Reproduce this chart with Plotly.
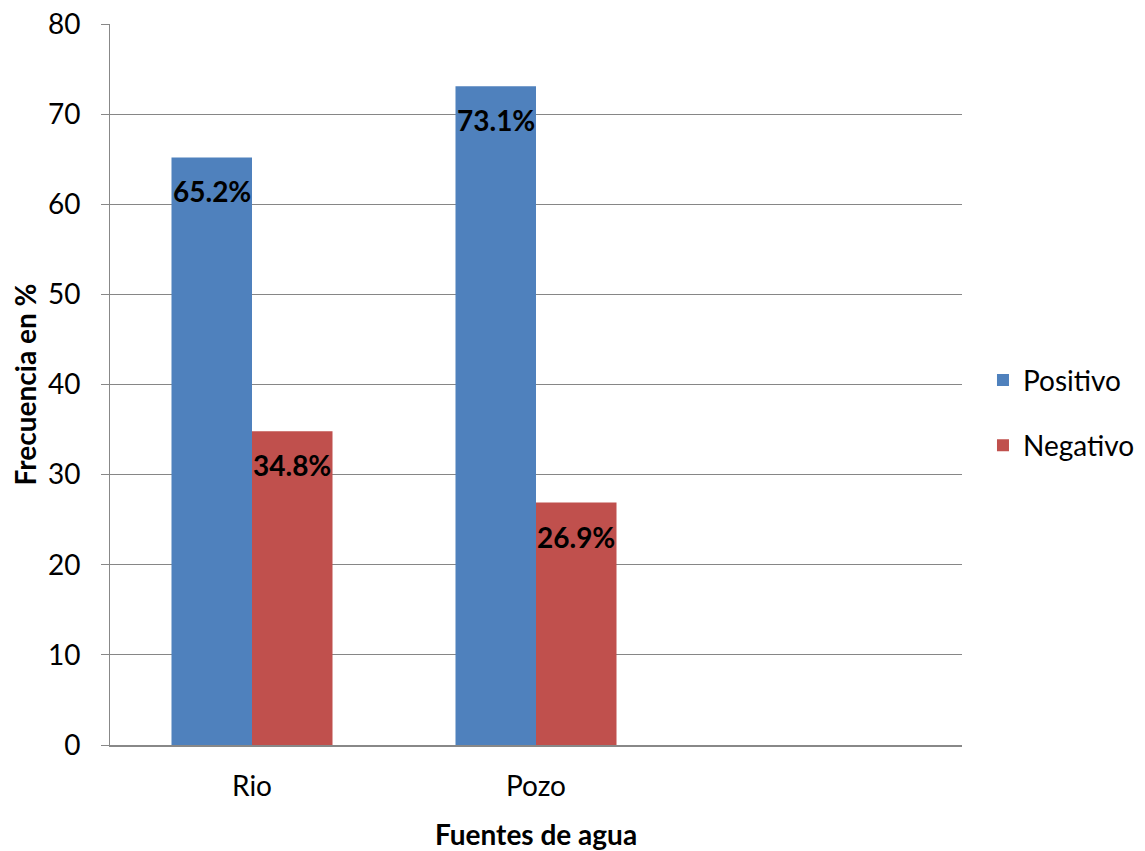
import plotly.graph_objects as go

categories = ["Rio", "Pozo", "Otro"]
positivo = [65.2, 73.1, None]
negativo = [34.8, 26.9, None]
pos_labels = ["65.2%", "73.1%"]
neg_labels = ["34.8%", "26.9%"]
y_ticks = [0, 10, 20, 30, 40, 50, 60, 70, 80]

FONT = "Lato"
BLUE = "#4F81BD"
RED = "#C0504D"
GRID = "#868686"

fig = go.Figure()
fig.add_trace(go.Bar(name="Positivo", x=categories, y=positivo,
                     marker=dict(color=BLUE, line=dict(width=0)), legendgroup="a"))
fig.add_trace(go.Bar(name="Negativo", x=categories, y=negativo,
                     marker=dict(color=RED, line=dict(width=0)), legendgroup="b"))

# bar width in px: plot width / n categories * (1 - bargap) / 2 bars
plot_w = 1145 - 110 - 183
bargap = 0.433
half_bar = plot_w / len(categories) * (1 - bargap) / 4

annotations = []
for vals, labels, sign in ((positivo, pos_labels, -1), (negativo, neg_labels, 1)):
    for cat, v, lab in zip(categories, vals, labels):
        annotations.append(dict(
            x=cat, y=v, xref="x", yref="y", text=f"<b>{lab}</b>", showarrow=False,
            xshift=sign * half_bar, yshift=-34, xanchor="center", yanchor="middle",
            font=dict(family=FONT, size=28, color="black"),
        ))

fig.update_layout(
    width=1145, height=851,
    margin=dict(l=110, r=183, t=24, b=106, autoexpand=False),
    paper_bgcolor="white", plot_bgcolor="white",
    font=dict(family=FONT, size=28, color="black"),
    barmode="group", bargap=bargap, bargroupgap=0,
    showlegend=True,
    legend=dict(x=0.8585, y=0.515, xref="container", yref="container",
                xanchor="left", yanchor="middle",
                font=dict(size=28), tracegroupgap=26, traceorder="grouped",
                itemwidth=30),
    annotations=annotations,
    xaxis=dict(
        range=[-0.5, 2.5], tickvals=categories[:2], showgrid=False,
        showline=True, linecolor="#888888", linewidth=2, ticks="",
        ticklabelstandoff=15, automargin=False,
        title=dict(text="<b>Fuentes de agua</b>", font=dict(size=28), standoff=31),
    ),
    yaxis=dict(
        range=[0, 80], tickvals=y_ticks, showgrid=True, gridcolor=GRID,
        gridwidth=1, showline=True, linecolor="#888888", linewidth=1,
        ticks="outside", ticklen=8, tickcolor="#888888", ticklabelstandoff=15,
        zeroline=False, automargin=False,
        title=dict(text="<b>Frecuencia en %</b>", font=dict(size=28), standoff=3),
    ),
)
fig.write_html("out.html")
